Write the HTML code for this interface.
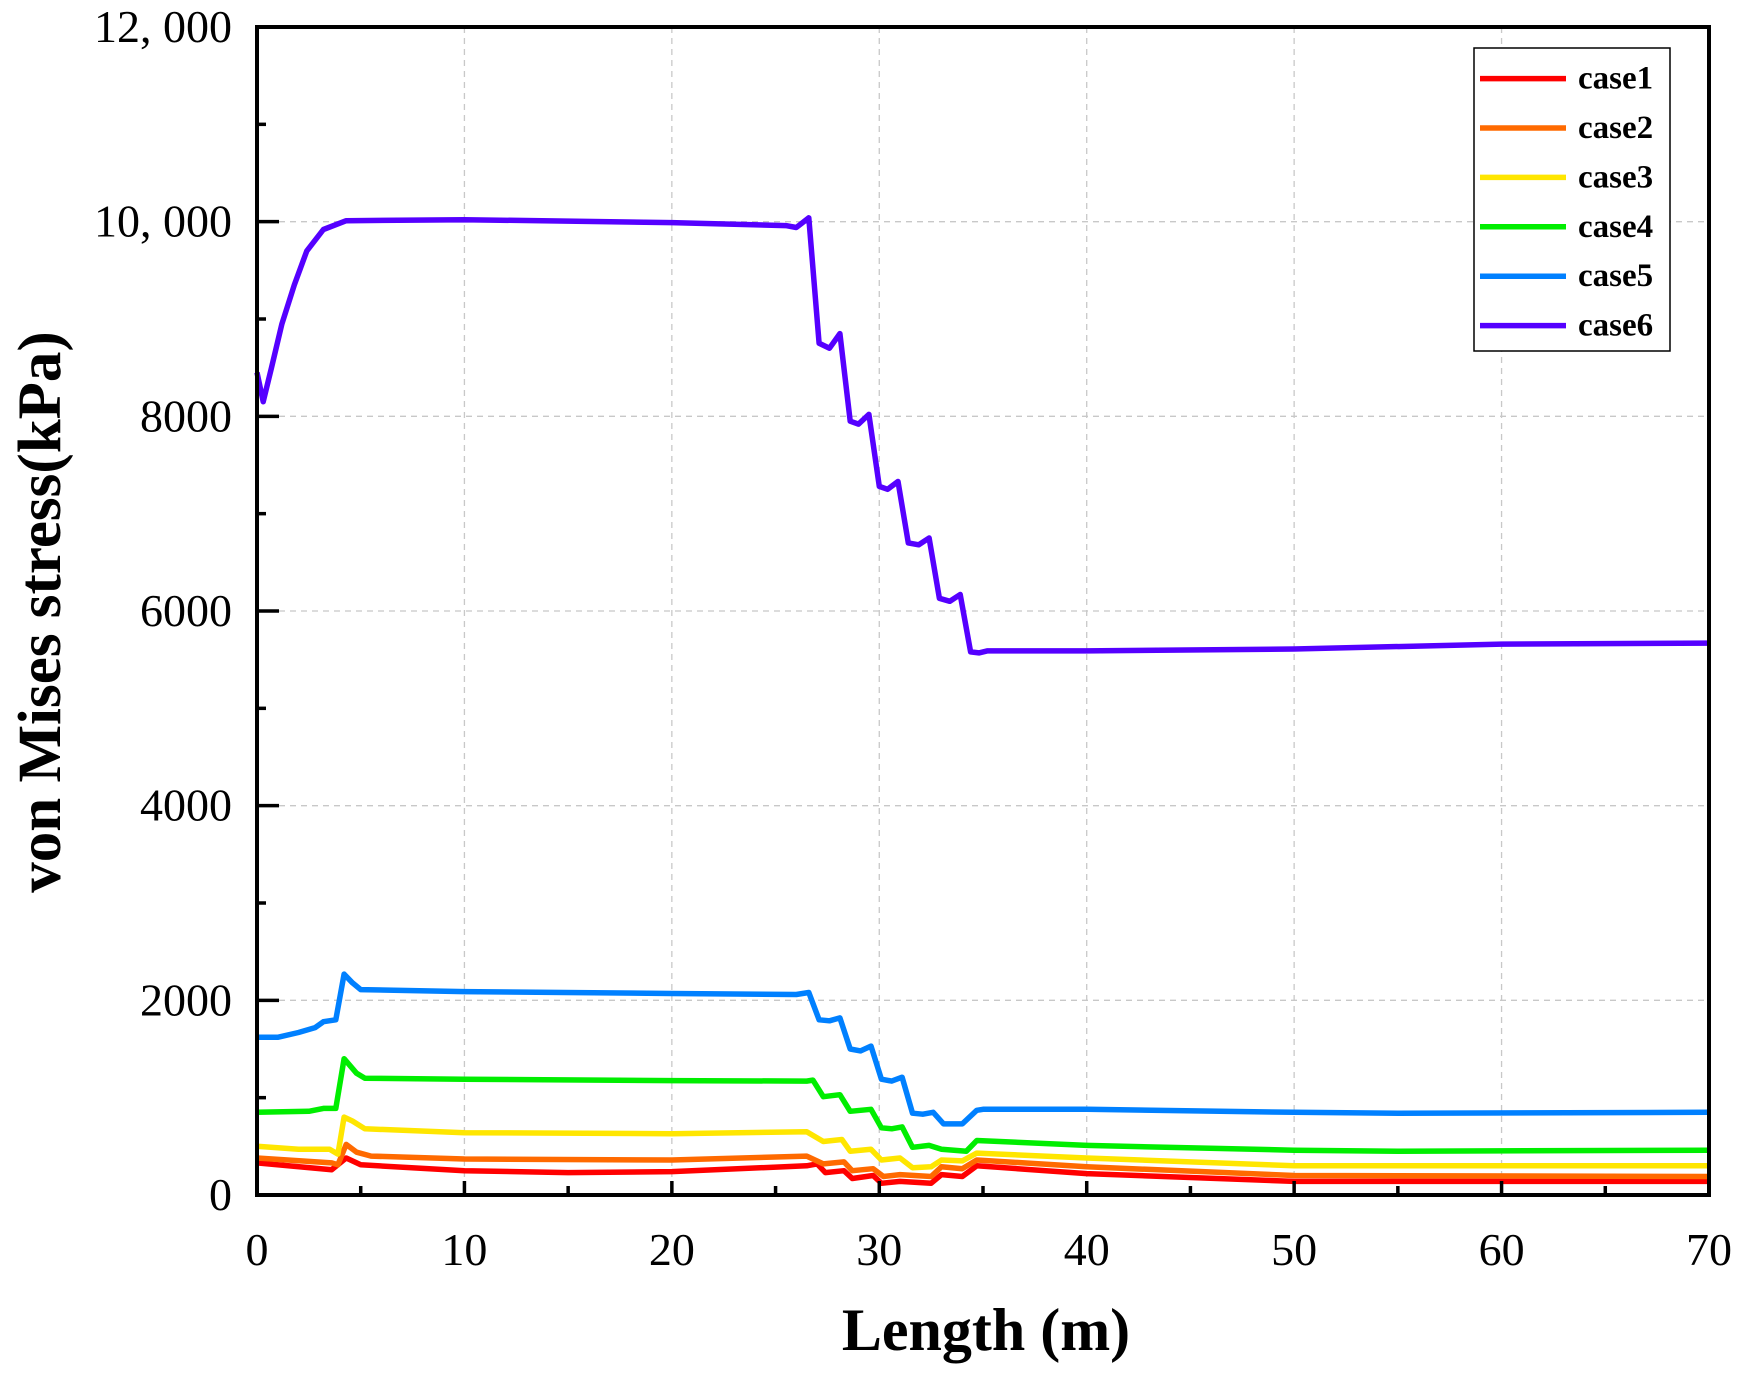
<!DOCTYPE html>
<html><head><meta charset="utf-8"><style>html,body{margin:0;padding:0;background:#fff}svg{display:block}</style></head>
<body>
<svg id="s" width="1751" height="1378" xmlns="http://www.w3.org/2000/svg" font-family="Liberation Serif, serif">
<g id="grid" stroke="#c8c8c8" stroke-width="1.3" stroke-dasharray="6,5"></g>
<g id="series" fill="none" stroke-width="5.5" stroke-linejoin="round"></g>
<rect x="257" y="27" width="1452" height="1168" fill="none" stroke="#000" stroke-width="4"/>
<g id="ticks" stroke="#000" stroke-width="3.5"></g>
<g id="labels" font-size="46" fill="#000"></g>
<text x="986" y="1350" font-size="60" font-weight="bold" text-anchor="middle">Length (m)</text>
<text transform="translate(60,612) rotate(-90)" font-size="61" font-weight="bold" text-anchor="middle">von Mises stress(kPa)</text>
<g id="legend">
<rect x="1474" y="48" width="196" height="303" fill="#fff" stroke="#000" stroke-width="1.5"/>
</g>
</svg>
<script>
const L=257,R=1709,T=27,B=1195;
const X=v=>L+v*(R-L)/70, Y=v=>B-v*(B-T)/12000;
const ns="http://www.w3.org/2000/svg";
function el(p,t,a,txt){const e=document.createElementNS(ns,t);for(const k in a)e.setAttribute(k,a[k]);if(txt!==undefined)e.textContent=txt;document.getElementById(p).appendChild(e);}
for(let i=1;i<7;i++)el("grid","line",{x1:X(i*10),x2:X(i*10),y1:T,y2:B});
for(let i=1;i<6;i++)el("grid","line",{x1:L,x2:R,y1:Y(i*2000),y2:Y(i*2000)});
for(let i=0;i<=14;i++){const x=X(i*5);el("ticks","line",{x1:x,x2:x,y1:B,y2:B-(i%2?9:14)});}
for(let i=0;i<=12;i++){const y=Y(i*1000);el("ticks","line",{x1:L,x2:L+(i%2?9:22),y1:y,y2:y});}
for(let i=0;i<=7;i++)el("labels","text",{x:X(i*10),y:1265,"text-anchor":"middle"},String(i*10));
const yl=["0","2000","4000","6000","8000","10, 000","12, 000"];
for(let i=0;i<=6;i++)el("labels","text",{x:232,y:Y(i*2000)+15,"text-anchor":"end"},yl[i]);
const D={
"#ff0000":[[0,330],[3.6,260],[4.3,380],[5,310],[10,250],[15,230],[20,240],[26.5,300],[27,320],[27.4,230],[28.3,250],[28.7,170],[29.7,200],[30.1,120],[31,140],[32.5,120],[33,210],[34,190],[34.7,300],[40,220],[50,140],[70,140]],
"#ff6a00":[[0,380],[3.6,330],[3.9,310],[4.3,520],[4.8,440],[5.5,400],[10,370],[20,360],[26.5,400],[27.3,320],[28.3,340],[28.7,250],[29.7,270],[30.2,190],[31,210],[32.5,190],[33,290],[34,270],[34.7,360],[40,290],[50,200],[70,190]],
"#ffe600":[[0,500],[2,470],[3.5,470],[3.9,420],[4.2,800],[4.6,760],[5.2,680],[10,640],[20,630],[26.5,650],[27.3,550],[28.2,570],[28.6,450],[29.6,470],[30.1,360],[31,380],[31.6,280],[32.5,290],[33,360],[34,350],[34.7,430],[40,380],[50,300],[70,300]],
"#00ee00":[[0,850],[2.5,860],[3.2,890],[3.8,890],[4.2,1400],[4.8,1250],[5.2,1200],[10,1190],[20,1175],[26.5,1170],[26.8,1180],[27.3,1010],[28.1,1030],[28.6,860],[29.6,880],[30.1,690],[30.6,680],[31.1,700],[31.6,490],[32.4,510],[33,470],[34.2,450],[34.7,560],[40,510],[50,460],[55,450],[70,460]],
"#0080ff":[[0,1620],[1,1620],[2,1670],[2.8,1720],[3.2,1780],[3.8,1800],[4.2,2270],[4.6,2180],[5,2110],[10,2090],[20,2070],[26,2060],[26.6,2080],[27.1,1800],[27.6,1790],[28.1,1820],[28.6,1500],[29.1,1480],[29.6,1530],[30.1,1190],[30.6,1170],[31.1,1210],[31.6,840],[32.1,830],[32.6,850],[33.1,730],[34,730],[34.7,870],[35,880],[40,880],[50,850],[55,840],[70,850]],
"#5500ff":[[0,8450],[0.3,8150],[0.7,8500],[1.2,8950],[1.8,9350],[2.4,9700],[3.2,9920],[4.3,10010],[10,10020],[20,9990],[25.5,9960],[26,9940],[26.6,10040],[27.1,8750],[27.6,8700],[28.1,8850],[28.6,7950],[29,7920],[29.5,8020],[30,7280],[30.4,7250],[30.9,7330],[31.4,6700],[31.9,6680],[32.4,6750],[32.9,6130],[33.4,6100],[33.9,6170],[34.4,5580],[34.8,5570],[35.2,5590],[40,5590],[50,5610],[60,5660],[70,5670]]};
let i=0;
for(const c in D){el("series","path",{stroke:c,d:"M"+D[c].map(p=>X(p[0]).toFixed(1)+","+Y(p[1]).toFixed(1)).join("L")});
const y=78.6+i*49.4;el("legend","line",{x1:1480,x2:1566,y1:y,y2:y,stroke:c,"stroke-width":5.5});
el("legend","text",{x:1578,y:y+10,"font-size":33,"font-weight":"bold"},"case"+(i+1));i++;}
</script>
</body></html>
